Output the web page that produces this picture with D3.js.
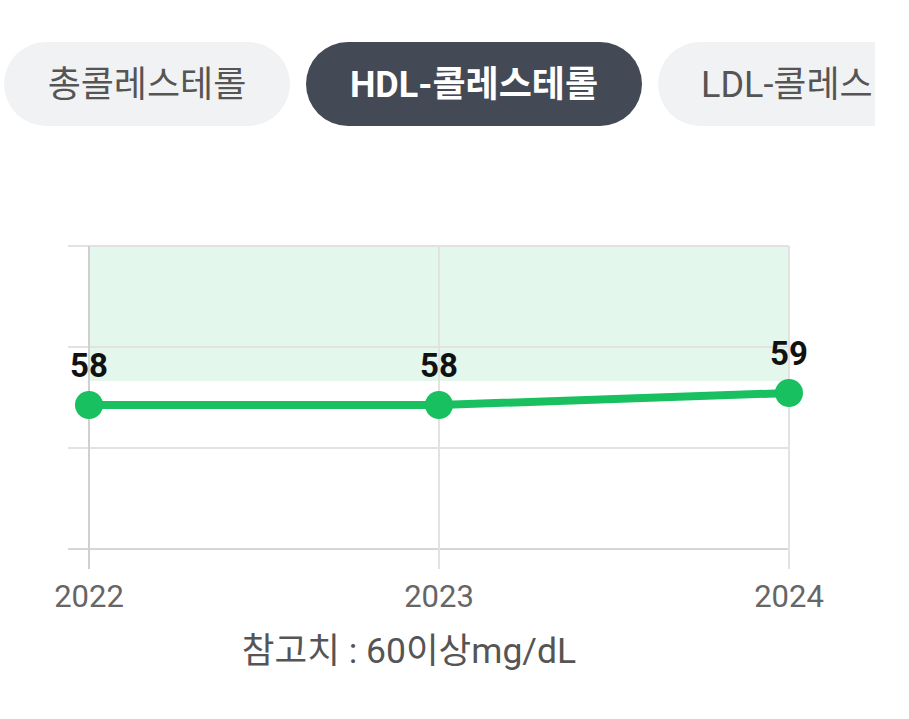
<!DOCTYPE html>
<html>
<head>
<meta charset="utf-8">
<script src="https://cdn.jsdelivr.net/npm/d3@7"></script>
<style>
  html, body { margin: 0; padding: 0; background: #fff; }
  svg { display: block; font-family: Roboto, "Noto Sans CJK KR", sans-serif; }
</style>
</head>
<body>
<div id="chart"></div>
<script>
//tab labels
var tabs = ['총콜레스테롤', 'HDL-콜레스테롤', 'LDL-콜레스테롤'];
var activeTab = 1;

//series data
var years = ['2022', '2023', '2024'];
var values = [58, 58, 59];

//reference range
var refLow = 60;
var caption = '참고치 : 60이상mg/dL';

var width = 909, height = 719;
var plot = { left: 89, right: 120, top: 246, bottom: 170 };

var svg = d3.select('#chart').append('svg')
    .attr('width', width)
    .attr('height', height);

//clip for the scrolled tab row
svg.append('defs').append('clipPath').attr('id', 'tabclip')
    .append('rect').attr('x', 0).attr('y', 0).attr('width', 875).attr('height', 160);

//draw tab pills
var tabX = [4, 306, 658], tabW = [286, 336, 300];
var tabG = svg.append('g').attr('clip-path', 'url(#tabclip)');
tabs.forEach(function (t, i) {
    var g = tabG.append('g').attr('transform', 'translate(' + tabX[i] + ',42)');
    g.append('rect')
        .attr('width', tabW[i]).attr('height', 84)
        .attr('rx', 42).attr('ry', 42)
        .attr('fill', i === activeTab ? '#434955' : '#f1f2f4');
    g.append('text')
        .attr('x', i === 2 ? 43 : tabW[i] / 2)
        .attr('y', 55)
        .attr('text-anchor', i === 2 ? 'start' : 'middle')
        .attr('font-size', 36)
        .attr('font-weight', i === activeTab ? 700 : 400)
        .attr('fill', i === activeTab ? '#ffffff' : '#555555')
        .text(t);
});

var x = d3.scalePoint()
    .domain(years)
    .range([plot.left, width - plot.right]);

var y = d3.scaleLinear()
    .domain([46, 71.25])
    .range([height - plot.bottom, plot.top]);

var yMax = y.domain()[1], yMin = y.domain()[0];
var chartG = svg.append('g');

//reference band
chartG.append('rect')
    .attr('x', x(years[0]))
    .attr('y', y(yMax))
    .attr('width', x(years[years.length - 1]) - x(years[0]))
    .attr('height', y(refLow) - y(yMax))
    .attr('fill', '#e3f7ec');

//horizontal grid lines
var yTicks = d3.range(4).map(function (i) { return yMin + i * (yMax - yMin) / 3; });
chartG.selectAll('line.hgrid')
    .data(yTicks)
    .enter().append('line')
    .attr('class', 'hgrid')
    .attr('x1', plot.left - 21)
    .attr('x2', x(years[years.length - 1]))
    .attr('y1', function (d) { return Math.round(y(d)); })
    .attr('y2', function (d) { return Math.round(y(d)); })
    .attr('stroke', function (d, i) { return i === 0 ? '#d6d6d6' : '#e2e2e2'; })
    .attr('stroke-width', 2);

//vertical grid lines
chartG.selectAll('line.vgrid')
    .data(years)
    .enter().append('line')
    .attr('class', 'vgrid')
    .attr('x1', function (d) { return x(d); })
    .attr('x2', function (d) { return x(d); })
    .attr('y1', y(yMax))
    .attr('y2', y(yMin) + 20)
    .attr('stroke', function (d, i) { return i === 0 ? '#d0d0d0' : '#e2e2e2'; })
    .attr('stroke-width', 2);

//x axis labels
chartG.selectAll('text.xlab')
    .data(years)
    .enter().append('text')
    .attr('class', 'xlab')
    .attr('x', function (d) { return x(d); })
    .attr('y', 607)
    .attr('text-anchor', 'middle')
    .attr('font-size', 31)
    .attr('fill', '#666666')
    .text(function (d) { return d; });

//line
var pts = years.map(function (d, i) { return [x(d), y(values[i])]; });
chartG.append('path')
    .attr('d', d3.line()(pts))
    .attr('fill', 'none')
    .attr('stroke', '#18c060')
    .attr('stroke-width', 8);

//points
chartG.selectAll('circle.pt')
    .data(values)
    .enter().append('circle')
    .attr('class', 'pt')
    .attr('cx', function (d, i) { return x(years[i]); })
    .attr('cy', function (d) { return y(d); })
    .attr('r', 14)
    .attr('fill', '#18c060');

//value labels
chartG.selectAll('text.vlab')
    .data(values)
    .enter().append('text')
    .attr('class', 'vlab')
    .attr('x', function (d, i) { return x(years[i]); })
    .attr('y', function (d) { return y(d) - 28; })
    .attr('text-anchor', 'middle')
    .attr('font-size', 33)
    .attr('font-weight', 700)
    .attr('fill', '#111111')
    .text(function (d) { return d; });

//caption
svg.append('text')
    .attr('x', 409)
    .attr('y', 663)
    .attr('text-anchor', 'middle')
    .attr('font-size', 35.5)
    .attr('fill', '#555555')
    .text(caption);
</script>
</body>
</html>
